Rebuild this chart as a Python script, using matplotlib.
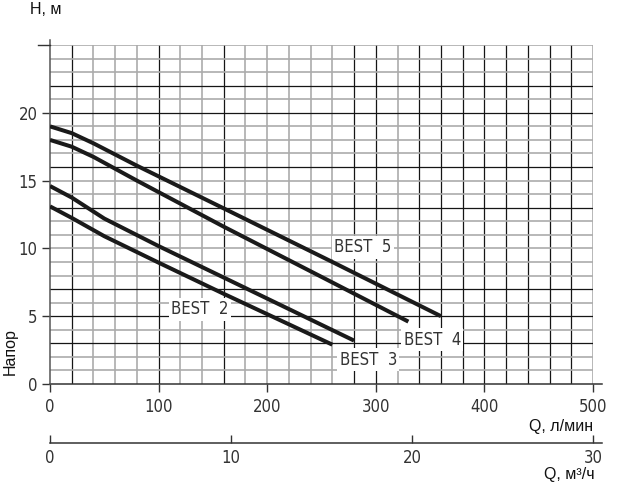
import matplotlib
matplotlib.use("Agg")
import matplotlib.pyplot as plt
from matplotlib import font_manager as fm

# ---- data ----
best5_q = [0, 20, 40, 80, 160, 260, 360]
best5_h = [19.0, 18.5, 17.75, 16.1, 12.95, 9.0, 5.0]
best4_q = [0, 20, 40, 80, 160, 250, 330]
best4_h = [18.0, 17.5, 16.75, 15.0, 11.6, 7.9, 4.6]
best3_q = [0, 20, 50, 100, 160, 280]
best3_h = [14.6, 13.75, 12.2, 10.17, 7.85, 3.2]
best2_q = [0, 20, 50, 100, 160, 260]
best2_h = [13.1, 12.25, 10.9, 8.95, 6.65, 2.9]

curve_names = ["BEST  5", "BEST  4", "BEST  3", "BEST  2"]
label_q = [288, 352, 293, 138]
label_h = [10.1, 3.25, 1.8, 5.5]

x_ticks = [0, 100, 200, 300, 400, 500]
y_ticks = [0, 5, 10, 15, 20]
m3h_ticks = [0, 10, 20, 30]

black_v = [20, 100, 160, 280, 300, 340, 360, 380, 400, 420, 440, 460, 480]
black_h = [3, 5, 7, 13, 16, 20, 22]

names = sorted({f.name + "|" + str(f.stretch) + "|" + str(f.weight) for f in fm.fontManager.ttflist})
print("\n".join(names))

narrow_fp = dict(family="DejaVu Sans", stretch="condensed", weight="light")
plain = ["Liberation Sans", "DejaVu Sans"]

fig = plt.figure(figsize=(6.4, 4.93), dpi=100)
W, H = 640, 493
left, right = 50 / W, 593 / W
bottom, top = (H - 384) / H, (H - 45) / H
ax = fig.add_axes([left, bottom, right - left, top - bottom])
ax.set_xlim(0, 500)
ax.set_ylim(0, 25)
for s in ax.spines.values():
    s.set_visible(False)

gray = "#ababab"
dark = "#151515"
for q in range(20, 501, 20):
    c = dark if q in black_v else gray
    ax.plot([q, q], [0, 25], color=c, lw=0.9 if c == dark else 1.2, zorder=1)
for h in range(1, 26):
    c = dark if h in black_h else gray
    ax.plot([0, 500], [h, h], color=c, lw=0.9 if c == dark else 1.2, zorder=1)

ax.plot([0, 508], [0, 0], color="#333333", lw=1.1, clip_on=False, zorder=2)
ax.plot([0, 0], [0, 25.4], color="#555555", lw=1.1, clip_on=False, zorder=2)
ax.plot([-11, 0], [25, 25], color="#333333", lw=1.0, clip_on=False, zorder=2)

for q, h in [(best5_q, best5_h), (best4_q, best4_h), (best3_q, best3_h), (best2_q, best2_h)]:
    ax.plot(q, h, color="#1a1a1a", lw=2.9, solid_capstyle="butt", zorder=4)

for name, q, h in zip(curve_names, label_q, label_h):
    ax.text(q, h, name, ha="center", va="center", fontsize=12, color="#333333", zorder=3,
            bbox=dict(boxstyle="square,pad=0.15", fc="white", ec="none"), **narrow_fp)

ax.set_xticks(x_ticks)
ax.set_yticks(y_ticks)
ax.set_xticklabels([str(v) for v in x_ticks], fontsize=12, color="#333333", **narrow_fp)
ax.set_yticklabels([str(v) for v in y_ticks], fontsize=12, color="#333333", **narrow_fp)
ax.tick_params(axis="x", direction="out", length=6, width=1.0, pad=4, color="#333333")
ax.tick_params(axis="y", direction="out", length=6, width=1.0, pad=3, color="#333333")

ax2 = fig.add_axes([left, (H - 443) / H, right - left, 0.0001])
ax2.set_xlim(0, 30)
ax2.set_yticks([])
for k in ["top", "left", "right", "bottom"]:
    ax2.spines[k].set_visible(False)
ax2.plot([0, 30.5], [0, 0], color="#333333", lw=1.1, clip_on=False)
ax2.set_xticks(m3h_ticks)
ax2.set_xticklabels([str(v) for v in m3h_ticks], fontsize=12, color="#333333", **narrow_fp)
ax2.tick_params(axis="x", direction="in", length=6, width=1.0, pad=4, color="#333333")
ax2.patch.set_visible(False)

fig.text(30 / W, 1 - 10 / H, "H, м", family=plain, fontsize=11.5, ha="left", va="center", color="#111111")
fig.text(10 / W, 1 - 352 / H, "Напор", family=plain, fontsize=11.5, rotation=90, ha="center", va="center", color="#111111")
fig.text(593 / W, 1 - 427 / H, "Q, л/мин", family=plain, fontsize=11.5, ha="right", va="center", color="#111111")
fig.text(595 / W, 1 - 474 / H, "Q, м³/ч", family=plain, fontsize=11.5, ha="right", va="center", color="#111111")

fig.savefig("out.png", dpi=100)
